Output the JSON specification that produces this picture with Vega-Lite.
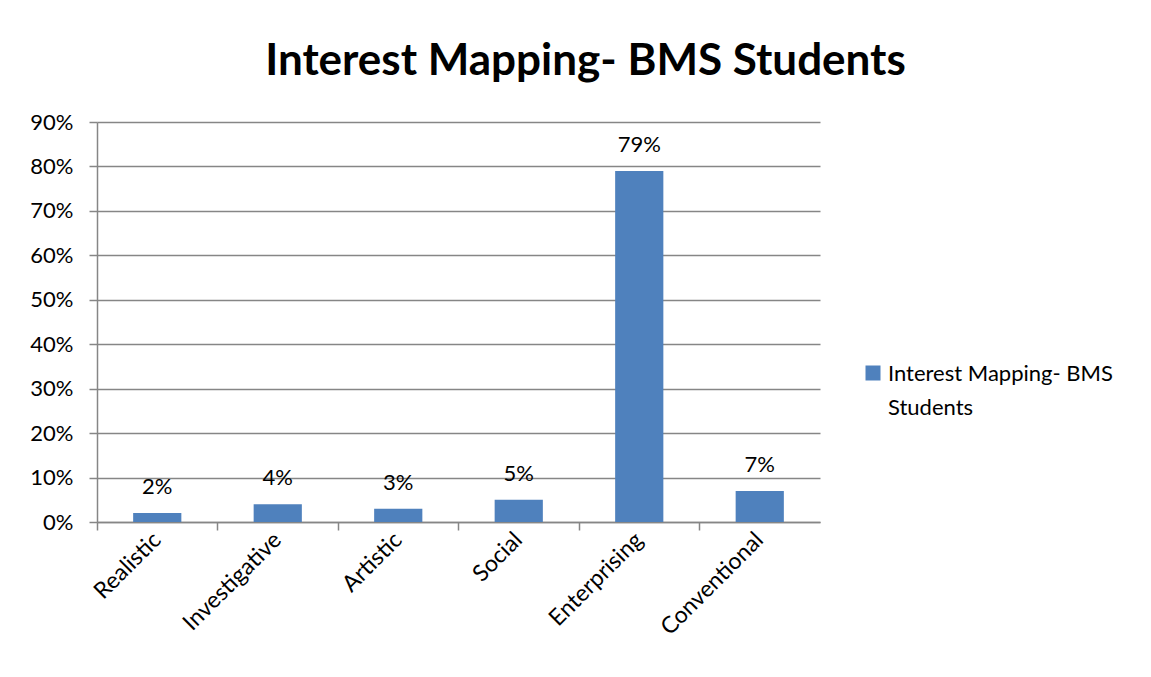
{
  "$schema": "https://vega.github.io/schema/vega-lite/v6.json",
  "width": 723,
  "height": 400,
  "autosize": {"type": "none"},
  "padding": {"left": 97, "top": 122, "right": 331, "bottom": 155},
  "background": "white",
  "config": {
    "font": "Lato",
    "view": {"stroke": null},
    "axis": {"labelFont": "Lato", "labelFontSize": 22, "labelColor": "#000000", "domainColor": "#868686", "tickColor": "#868686", "gridColor": "#868686", "domainWidth": 1.5, "tickWidth": 1.5, "gridWidth": 1.5, "tickSize": 8, "title": null}
  },
  "title": {
    "text": "Interest Mapping- BMS Students",
    "font": "Lato",
    "fontSize": 44,
    "fontWeight": "bold",
    "color": "#000000",
    "anchor": "middle",
    "frame": "group",
    "dx": 127,
    "baseline": "alphabetic",
    "offset": -8
  },
  "data": {
    "values": [
      {"category": "Realistic", "value": 0.02, "series": "Interest Mapping- BMS Students"},
      {"category": "Investigative", "value": 0.04, "series": "Interest Mapping- BMS Students"},
      {"category": "Artistic", "value": 0.03, "series": "Interest Mapping- BMS Students"},
      {"category": "Social", "value": 0.05, "series": "Interest Mapping- BMS Students"},
      {"category": "Enterprising", "value": 0.79, "series": "Interest Mapping- BMS Students"},
      {"category": "Conventional", "value": 0.07, "series": "Interest Mapping- BMS Students"}
    ]
  },
  "encoding": {
    "x": {
      "field": "category",
      "type": "nominal",
      "sort": null,
      "scale": {"paddingInner": 0, "paddingOuter": 0},
      "axis": {"labelAngle": -45, "labelAlign": "right", "labelBaseline": "middle", "labelPadding": 6, "labelFontSize": 23, "bandPosition": 0, "ticks": true, "grid": false}
    },
    "y": {
      "field": "value",
      "type": "quantitative",
      "scale": {"domain": [0, 0.9], "nice": false},
      "axis": {"format": "%", "values": [0, 0.1, 0.2, 0.3, 0.4, 0.5, 0.6, 0.7, 0.8, 0.9], "grid": true, "labelPadding": 16}
    }
  },
  "layer": [
    {
      "mark": {"type": "bar", "width": {"band": 0.4}, "color": "#4F81BD"},
      "encoding": {
        "color": {
          "field": "series",
          "type": "nominal",
          "scale": {"range": ["#4F81BD"]},
          "legend": {
            "title": null,
            "orient": "none",
            "legendX": 765,
            "legendY": 240,
            "symbolType": "square",
            "symbolSize": 225,
            "symbolStrokeWidth": 0,
            "labelFont": "Lato",
            "labelFontSize": 22,
            "labelColor": "#000000",
            "labelBaseline": "alphabetic",
            "labelLimit": 400,
            "labelExpr": "['Interest Mapping- BMS', 'Students']",
            "encode": {"labels": {"update": {"dy": {"value": 8}, "lineHeight": {"value": 34}}}}
          }
        }
      }
    },
    {
      "mark": {"type": "text", "fontSize": 22, "font": "Lato", "color": "#000000", "baseline": "alphabetic", "dy": -19},
      "encoding": {
        "text": {"field": "value", "type": "quantitative", "format": ".0%"}
      }
    }
  ]
}
